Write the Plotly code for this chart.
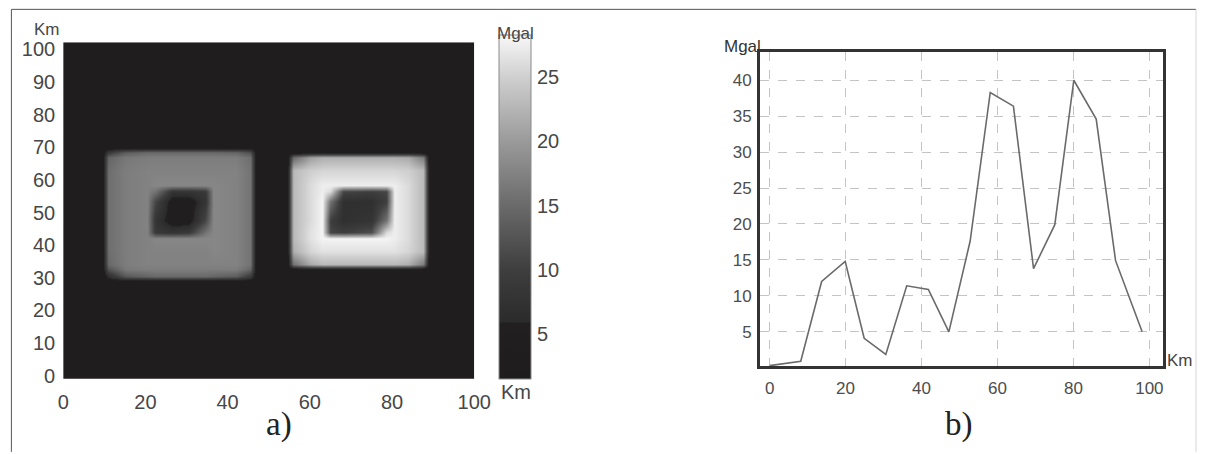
import plotly.graph_objects as go

# ---------------- panel a) : gravity anomaly map (values read from the picture) ----------------
grid_x_km = [0, 9.5, 11, 15, 20.5, 22.5, 26.5, 30.5, 34.5, 36.5, 42, 45.5, 47,
             54.5, 56, 60, 63, 65, 68, 75, 78.5, 80.5, 84, 87.5, 89, 100]
grid_y_km = [0, 29, 30.5, 32.5, 34, 38, 42, 44, 47.5, 53.5, 56.5, 58.5, 63, 67, 68.5, 70, 100]

# each row: left body (13 samples) + right body (13 samples), in Mgal
row_bg = [3] * 26
gravity_grid = [
    row_bg,
    row_bg,
    [3, 3, 7, 13, 14.5, 15, 15, 15, 15, 14.5, 13.5, 9, 3] + [3] * 13,
    [3, 3, 12.5, 16.5, 17, 17, 17, 17, 17, 17, 17, 14.5, 3] + [3] * 13,
    [3, 3, 15, 17, 17.5, 17.5, 17.5, 17.5, 17.5, 17.5, 17.5, 16, 3]
    + [3, 16, 21.5, 23, 23, 23, 23, 23, 23, 22, 17, 3, 3],
    [3, 3, 15.5, 17, 17.5, 17.5, 17.5, 17.5, 17.5, 18, 17.5, 16, 3]
    + [3, 22, 25.5, 26.5, 26.5, 26.5, 26.5, 26.5, 26.5, 25.5, 23, 3, 3],
    [3, 3, 15.5, 17, 17.5, 18, 18, 18, 18, 18, 17.5, 16, 3]
    + [3, 23, 26.5, 28, 28, 28, 28, 28, 27.5, 26, 23, 3, 3],
    [3, 3, 15.5, 17, 17.5, 9, 8, 9, 16, 18, 17.5, 16, 3]
    + [3, 23, 26.5, 28, 11, 10, 12, 26, 27.5, 26, 23, 3, 3],
    [3, 3, 15.5, 17, 17.5, 8, 4, 4, 11, 18, 17.5, 16, 3]
    + [3, 23, 26, 28, 10, 7, 8, 16, 27.5, 26, 23, 3, 3],
    [3, 3, 15.5, 17, 17.5, 11, 4, 4, 8, 18, 17.5, 16, 3]
    + [3, 23, 26, 28, 16, 7, 7, 10, 27.5, 26, 23, 3, 3],
    [3, 3, 15.5, 17, 17.5, 16, 8, 8, 9, 18, 17.5, 16, 3]
    + [3, 23, 26, 27.5, 26, 11, 10, 11, 27.5, 26, 23, 3, 3],
    [3, 3, 15.5, 17, 17.5, 18, 18, 18, 18, 18, 17.5, 16, 3]
    + [3, 23, 26, 27.5, 27.5, 27.5, 27.5, 27.5, 27.5, 26, 23, 3, 3],
    [3, 3, 15.5, 17, 17.5, 17.5, 17.5, 17.5, 17.5, 17.5, 17.5, 16, 3]
    + [3, 23, 25, 25.5, 25.5, 25.5, 25.5, 25.5, 25.5, 25, 23, 3, 3],
    [3, 3, 14.5, 16.5, 17, 17, 17, 17, 17, 17, 17, 15.5, 3]
    + [3, 15, 20.5, 22, 22, 22, 22, 22, 22, 21.5, 17, 3, 3],
    [3, 3, 9, 13.5, 15, 15, 15, 15, 15, 15, 14.5, 12, 3] + [3] * 13,
    row_bg,
    row_bg,
]
map_yticks = [0, 10, 20, 30, 40, 50, 60, 70, 80, 90, 100]
map_xticks = [0, 20, 40, 60, 80, 100]
cbar_ticks = [5, 10, 15, 20, 25]

# ---------------- panel b) : profile ----------------
profile_km = [0, 8.2, 13.7, 19.9, 24.9, 30.6, 36.1, 41.8, 47.2, 52.8, 58.1, 64.2,
              69.5, 75.1, 80.1, 86.0, 91.1, 98.1]
profile_mgal = [0.3, 0.9, 12.0, 14.8, 4.1, 1.85, 11.4, 10.9, 5.0, 17.6, 38.3, 36.4,
                13.8, 19.9, 40.0, 34.6, 14.9, 5.0]
profile_xticks = [0, 20, 40, 60, 80, 100]
profile_yticks = [5, 10, 15, 20, 25, 30, 35, 40]

W, H = 1214, 454
def px(x):
    return x / W
def py(y):
    return 1 - y / H

zmin, zmax = 1.5, 28.3
def n(v):
    return (v - zmin) / (zmax - zmin)

colorscale = [
    [0.0, "#1f1c1d"],
    [n(5.85), "#221f20"],
    [n(5.95), "#2b2b2b"],
    [n(10), "#3e3e3e"],
    [n(15), "#6a6a6a"],
    [n(20), "#9a9a9a"],
    [n(25), "#cfcfcf"],
    [1.0, "#f8f8f8"],
]

SANS = "Liberation Sans, Arial, sans-serif"
tick_font = dict(family=SANS, size=20, color="#474747")
tick_font_b = dict(family=SANS, size=17, color="#4d4d4d")

fig = go.Figure()

fig.add_trace(go.Heatmap(
    x=grid_x_km, y=grid_y_km, z=gravity_grid,
    zsmooth="best", zmin=zmin, zmax=zmax, colorscale=colorscale,
    xaxis="x", yaxis="y", hoverinfo="skip",
    colorbar=dict(
        x=px(502.5), xanchor="left", xpad=0,
        y=py(385), yanchor="bottom", ypad=0,
        lenmode="pixels", len=344, thicknessmode="pixels", thickness=32,
        outlinewidth=1, outlinecolor="#8a8a8a",
        tickvals=cbar_ticks, ticks="outside", ticklen=2, tickcolor="rgba(0,0,0,0)",
        tickfont=tick_font,
    ),
))

fig.add_trace(go.Scatter(
    x=profile_km, y=profile_mgal, mode="lines",
    line=dict(color="#6a6a6a", width=1.6),
    xaxis="x2", yaxis="y2", hoverinfo="skip", showlegend=False,
))

fig.update_layout(
    width=W, height=H, margin=dict(l=0, r=0, t=0, b=0),
    paper_bgcolor="white", plot_bgcolor="white", showlegend=False,
    xaxis=dict(domain=[px(58.3), px(477.3)], range=[0, 100], tickvals=map_xticks,
               showgrid=False, zeroline=False, showline=False,
               ticks="outside", ticklen=5, tickcolor="rgba(0,0,0,0)", tickfont=tick_font),
    yaxis=dict(domain=[py(385), py(39.3)], range=[-1.0, 102.2], tickvals=map_yticks,
               showgrid=False, zeroline=False, showline=False,
               ticks="outside", ticklen=3, tickcolor="rgba(0,0,0,0)", tickfont=tick_font),
    xaxis2=dict(domain=[px(768.3), px(1179)], range=[-2.6, 103.5], tickvals=profile_xticks,
                anchor="y2", showgrid=True, gridcolor="#c4c4c4", gridwidth=1, griddash="dash",
                zeroline=False, showline=True, mirror=True, linecolor="#333333", linewidth=2.5,
                ticks="outside", ticklen=4, tickcolor="rgba(0,0,0,0)", tickfont=tick_font_b),
    yaxis2=dict(domain=[py(372.3), py(49.3)], range=[0.18, 43.93], tickvals=profile_yticks,
                anchor="x2", showgrid=True, gridcolor="#c4c4c4", gridwidth=1, griddash="dash",
                zeroline=False, showline=True, mirror=True, linecolor="#333333", linewidth=2.5,
                ticks="outside", ticklen=2, tickcolor="rgba(0,0,0,0)", tickfont=tick_font_b),
)

# outer frame of the figure: dark left/top edges, faint right edge
for (x0, y0, x1, y1, col) in [(5.5, 5.5, 5.5, 460, "#555555"),
                              (5.5, 5.5, 1213, 5.5, "#555555"),
                              (1213, 5.5, 1213, 460, "#d6d6d6")]:
    fig.add_shape(type="line", xref="paper", yref="paper",
                  x0=px(x0), x1=px(x1), y0=py(y0), y1=py(y1),
                  line=dict(color=col, width=1), layer="above")

label_font = dict(family=SANS, size=17, color="#474747")
ann = [
    dict(text="Km", x=px(41.5), y=py(26.5), font=label_font),
    dict(text="Km", x=px(520), y=py(399), font=tick_font),
    dict(text="Mgal", x=px(519), y=py(30.5), font=label_font),
    dict(text="Mgal", x=px(750.7), y=py(43.3), font=dict(family=SANS, size=17, color="#333333")),
    dict(text="Km", x=px(1196.5), y=py(365.7), font=dict(family=SANS, size=17, color="#444444")),
    dict(text="a)", x=px(278), y=py(432), font=dict(family="Liberation Serif, Times New Roman, serif", size=33, color="#222222")),
    dict(text="b)", x=px(971), y=py(432), font=dict(family="Liberation Serif, Times New Roman, serif", size=33, color="#222222")),
]
for a in ann:
    fig.add_annotation(xref="paper", yref="paper", showarrow=False,
                       xanchor="center", yanchor="middle", **a)

fig.write_html("out.html")
